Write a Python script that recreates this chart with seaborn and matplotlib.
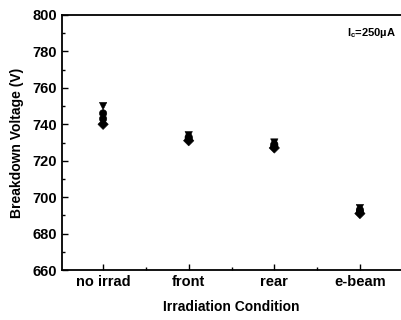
import matplotlib

matplotlib.use("Agg")
import matplotlib.pyplot as plt
import pandas as pd
import seaborn as sns
from matplotlib.ticker import MultipleLocator

CONDITIONS = ["no irrad", "front", "rear", "e-beam"]
DEVICE_1 = [750, 734, 730, 694]
DEVICE_2 = [746, 733, 729, 693]
DEVICE_3 = [743, 732, 728, 692]
DEVICE_4 = [740, 731, 727, 691]
DEVICES = ["d1", "d2", "d3", "d4"]
MARKERS = {"d1": "v", "d2": "o", "d3": "o", "d4": "D"}

rows = []
for dev, vals in zip(DEVICES, [DEVICE_1, DEVICE_2, DEVICE_3, DEVICE_4]):
    for c, v in zip(CONDITIONS, vals):
        rows.append({"cond": c, "pos": CONDITIONS.index(c) + 1, "v": v, "dev": dev})
df = pd.DataFrame(rows)

sns.set_style("ticks", {"text.color": "black", "axes.labelcolor": "black",
                        "xtick.color": "black", "ytick.color": "black",
                        "axes.edgecolor": "black"})
plt.rcParams["font.family"] = ["Liberation Sans", "DejaVu Sans"]
plt.rcParams["font.weight"] = "bold"

fig = plt.figure(figsize=(4.01, 3.20), dpi=100)
ax = fig.add_axes([62 / 401, 50 / 320, 339 / 401, 255 / 320])

sns.scatterplot(data=df, x="pos", y="v", style="dev", markers=MARKERS,
                color="black", s=28, edgecolor="black", linewidth=0.4,
                legend=False, ax=ax)

ax.set_xlim(0.52, 4.48)
ax.set_ylim(660, 800)
ax.set_xticks([1, 2, 3, 4])
ax.set_xticklabels(CONDITIONS)
ax.xaxis.set_minor_locator(MultipleLocator(0.5))
ax.yaxis.set_major_locator(MultipleLocator(20))
ax.yaxis.set_minor_locator(MultipleLocator(10))
ax.tick_params(which="both", direction="in", length=4, width=1,
               top=False, right=False, labelsize=10.5)
ax.tick_params(which="minor", length=2.5)
for lbl in ax.get_xticklabels() + ax.get_yticklabels():
    lbl.set_fontweight("bold")

ax.set_xlabel("Irradiation Condition", fontsize=10, fontweight="bold", labelpad=8)
ax.set_ylabel("Breakdown Voltage (V)", fontsize=10, fontweight="bold", labelpad=6)
ax.spines["right"].set_visible(False)
for s in ("left", "bottom", "top"):
    ax.spines[s].set_linewidth(1.3)

ax.text(0.985, 0.955, "I$_\\mathregular{c}$=250\u00b5A", transform=ax.transAxes,
        ha="right", va="top", fontsize=8, fontweight="bold")

fig.savefig("out.png", dpi=100)
